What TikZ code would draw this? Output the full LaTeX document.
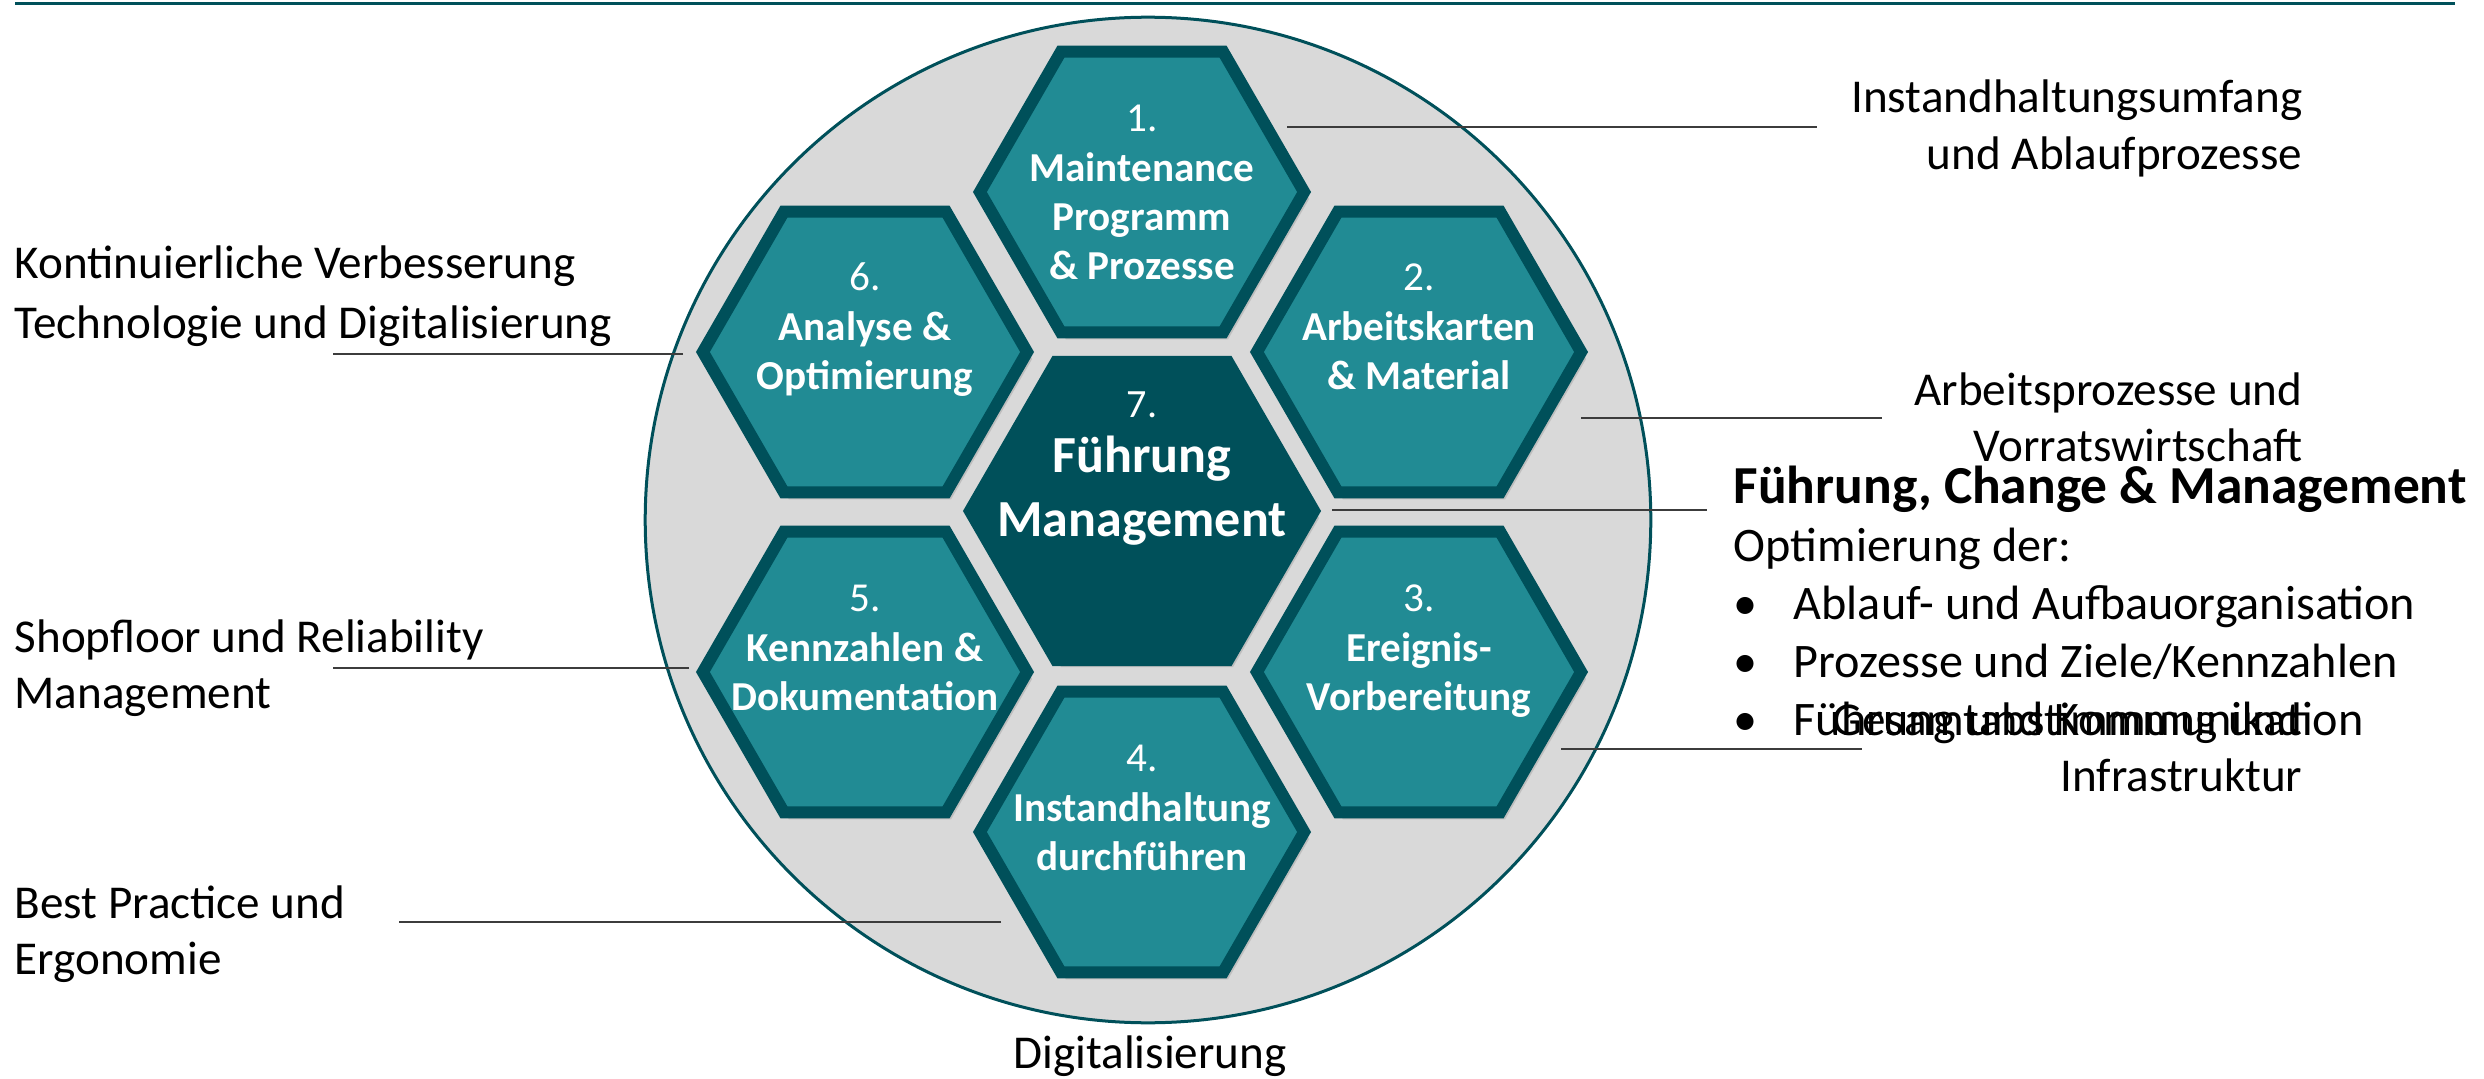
\documentclass[tikz,border=0pt]{standalone}
\usepackage{fontspec}
\setmainfont{Carlito}
\usepackage{tikz}
\usetikzlibrary{shapes.geometric,shadows}
\definecolor{petrol}{RGB}{0,80,90}
\definecolor{teal2}{RGB}{33,139,148}
\definecolor{ring}{RGB}{217,217,217}
\definecolor{leadgray}{RGB}{60,60,60}
\newcommand{\tabstack}[2][c]{\begin{tabular}[t]{@{}#1@{}}#2\end{tabular}}
\tikzstyle{disc}=[circle,minimum size=10.05cm,inner sep=0pt,draw=petrol,fill=ring,line width=0.03cm]
\tikzstyle{hexa}=[regular polygon,regular polygon sides=6,minimum size=3.24cm,inner sep=0pt,draw=petrol,fill=teal2,line width=0.12cm,drop shadow={shadow xshift=0.05cm,shadow yshift=-0.07cm,opacity=0.3}]
\tikzstyle{hexcore}=[hexa,fill=petrol,minimum size=3.44cm]
\tikzstyle{hextext}=[anchor=base,inner sep=0pt,text=white,font=\fontsize{11.7}{14}\selectfont]
\tikzstyle{sidetext}=[inner sep=0pt,font=\fontsize{13.4}{16.2}\selectfont]
\tikzstyle{leader}=[draw=leadgray,line width=0.025cm]

\begin{document}
\begin{tikzpicture}[x=0.01cm,y=-0.01cm]
  \useasboundingbox (0,0) rectangle (2484,1079);
  \draw [petrol,line width=0.035cm] (15,3.5) -- (2455,3.5);

  \node [disc] (disc) at (1148,520) {};
  \node [hexa] (h1) at (1142,192) {};
  \node [hexa] (h2) at (1419,352) {};
  \node [hexa] (h3) at (1419,672) {};
  \node [hexa] (h4) at (1142,832) {};
  \node [hexa] (h5) at (865,672) {};
  \node [hexa] (h6) at (865,352) {};
  \node [hexcore] (h7) at (1142,511) {};

  \node [hextext] (t1) at ([yshift=0.6cm]h1.center) {\tabstack{1.\\\textbf{Maintenance}\\\textbf{Programm}\\\textbf{\& Prozesse}}};
  \node [hextext] (t2) at ([yshift=0.61cm]h2.center) {\tabstack{2.\\\textbf{Arbeitskarten}\\\textbf{\& Material}}};
  \node [hextext] (t3) at ([yshift=0.6cm]h3.center) {\tabstack{3.\\\textbf{Ereignis-}\\\textbf{Vorbereitung}}};
  \node [hextext] (t4) at ([yshift=0.6cm]h4.center) {\tabstack{4.\\\textbf{Instandhaltung}\\\textbf{durchführen}}};
  \node [hextext] (t5) at ([yshift=0.6cm]h5.center) {\tabstack{5.\\\textbf{Kennzahlen \&}\\\textbf{Dokumentation}}};
  \node [hextext] (t6) at ([yshift=0.61cm]h6.center) {\tabstack{6.\\\textbf{Analyse \&}\\\textbf{Optimierung}}};
  \node [hextext,font=\fontsize{14.8}{18.2}\selectfont] (t7) at ([yshift=0.93cm]h7.center)
    {\tabstack{{\fontsize{11.4}{14}\selectfont 7.}\\[-0.09cm]\textbf{Führung}\\\textbf{Management}}};

  \node [sidetext,anchor=base east] (l1) at (2303,113) {\tabstack[r]{Instandhaltungsumfang\\und Ablaufprozesse}};
  \node [sidetext,anchor=base east] (l2) at (2303,405) {\tabstack[r]{Arbeitsprozesse und\\Vorratswirtschaft}};
  \node [sidetext,anchor=base east] (l3) at (2303,735) {\tabstack[r]{Gesamtabstimmung und\\Infrastruktur}};
  \node [sidetext,anchor=base west,font=\fontsize{13.4}{16.8}\selectfont] (l6) at (14,279) {\tabstack[l]{Kontinuierliche Verbesserung\\Technologie und Digitalisierung}};
  \node [sidetext,anchor=base west] (l5) at (14,652) {\tabstack[l]{Shopfloor und Reliability\\Management}};
  \node [sidetext,anchor=base west] (l4) at (14,918) {\tabstack[l]{Best Practice und\\Ergonomie}};
  \node [sidetext,anchor=base] (dig) at (1150,1068) {Digitalisierung};

  \node [sidetext,anchor=base west,font=\fontsize{13.7}{16.5}\selectfont] (mgmt) at (1733,503)
    {\tabstack[l]{{\fontsize{15.2}{18}\selectfont\bfseries Führung, Change \& Management}\\
      Optimierung der:\\
      \makebox[0.6cm][l]{\textbullet}Ablauf- und Aufbauorganisation\\
      \makebox[0.6cm][l]{\textbullet}Prozesse und Ziele/Kennzahlen\\
      \makebox[0.6cm][l]{\textbullet}Führung und Kommunikation}};

  \coordinate (e1) at (1287,127);  \coordinate (f1) at (1817,127);
  \coordinate (e2) at (1581,418);  \coordinate (f2) at (1882,418);
  \coordinate (e3) at (1332,510);  \coordinate (f3) at (1707,510);
  \coordinate (e4) at (1561,749);  \coordinate (f4) at (1862,749);
  \coordinate (e6) at (683,354);   \coordinate (f6) at (333,354);
  \coordinate (e5) at (689,668);   \coordinate (f5) at (333,668);
  \coordinate (e7) at (1001,922);  \coordinate (f7) at (399,922);
  \draw [leader] (e1) -- (f1);
  \draw [leader] (e2) -- (f2);
  \draw [leader] (e3) -- (f3);
  \draw [leader] (e4) -- (f4);
  \draw [leader] (e6) -- (f6);
  \draw [leader] (e5) -- (f5);
  \draw [leader] (e7) -- (f7);
\end{tikzpicture}
\end{document}
